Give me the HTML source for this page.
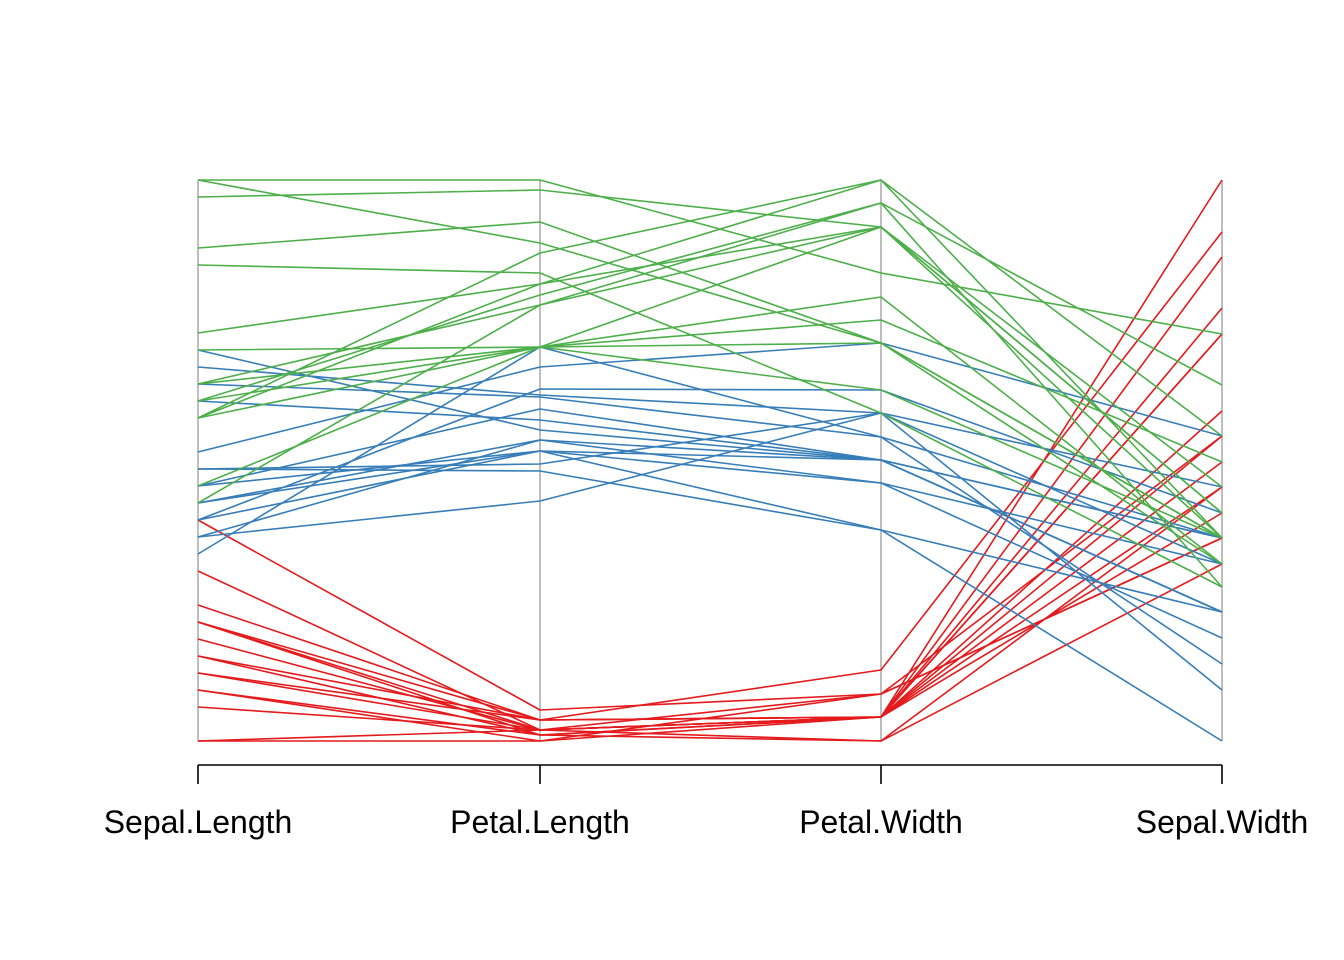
<!DOCTYPE html>
<html><head><meta charset="utf-8"><style>html,body{margin:0;padding:0;background:#fff}svg{display:block}</style></head>
<body>
<svg width="1344" height="960" viewBox="0 0 1344 960" xmlns="http://www.w3.org/2000/svg">
<rect width="1344" height="960" fill="#fff"/>
<g stroke="#BEBEBE" stroke-width="2">
<line x1="198" y1="180" x2="198" y2="741"/><line x1="540" y1="180" x2="540" y2="741"/>
<line x1="881" y1="180" x2="881" y2="741"/><line x1="1222" y1="180" x2="1222" y2="741"/>
</g>
<g fill="none" stroke-width="1.6" stroke-linejoin="round">
<g stroke="#E41A1C">
<polyline points="198,520 540,710 881,694 1222,436"/>
<polyline points="198,571 540,730 881,717 1222,334"/>
<polyline points="198,605 540,720 881,717 1222,180"/>
<polyline points="198,622 540,730 881,717 1222,308"/>
<polyline points="198,622 540,735 881,741 1222,487"/>
<polyline points="198,622 540,720 881,670 1222,232"/>
<polyline points="198,639 540,730 881,717 1222,411"/>
<polyline points="198,656 540,735 881,717 1222,334"/>
<polyline points="198,673 540,720 881,717 1222,462"/>
<polyline points="198,673 540,730 881,694 1222,538"/>
<polyline points="198,690 540,735 881,717 1222,487"/>
<polyline points="198,707 540,730 881,741 1222,564"/>
<polyline points="198,741 540,741 881,717 1222,513"/>
<polyline points="198,741 540,730 881,717 1222,257"/>
<polyline points="198,656 540,720 881,717 1222,436"/>
<polyline points="198,690 540,741 881,694 1222,538"/>
</g>
<g stroke="#377EB8">
<polyline points="198,350 540,430 881,460 1222,538"/>
<polyline points="198,367 540,395 881,413 1222,564"/>
<polyline points="198,384 540,397 881,437 1222,538"/>
<polyline points="198,401 540,420 881,460 1222,612"/>
<polyline points="198,452 540,367 881,343 1222,436"/>
<polyline points="198,469 540,464 881,413 1222,487"/>
<polyline points="198,486 540,409 881,460 1222,538"/>
<polyline points="198,503 540,440 881,483 1222,564"/>
<polyline points="198,503 540,451 881,530 1222,741"/>
<polyline points="198,520 540,389 881,390 1222,513"/>
<polyline points="198,520 540,451 881,460 1222,612"/>
<polyline points="198,537 540,440 881,460 1222,612"/>
<polyline points="198,537 540,501 881,413 1222,690"/>
<polyline points="198,554 540,347 881,437 1222,664"/>
<polyline points="198,486 540,451 881,483 1222,638"/>
<polyline points="198,469 540,471 881,530 1222,612"/>
</g>
<g stroke="#4DAF4A">
<polyline points="198,180 540,180 881,273 1222,334"/>
<polyline points="198,180 540,243 881,343 1222,538"/>
<polyline points="198,197 540,190 881,227 1222,513"/>
<polyline points="198,248 540,222 881,343 1222,564"/>
<polyline points="198,265 540,273 881,413 1222,587"/>
<polyline points="198,333 540,284 881,180 1222,436"/>
<polyline points="198,350 540,347 881,343 1222,538"/>
<polyline points="198,384 540,305 881,227 1222,487"/>
<polyline points="198,384 540,347 881,390 1222,538"/>
<polyline points="198,401 540,295 881,203 1222,385"/>
<polyline points="198,418 540,253 881,180 1222,538"/>
<polyline points="198,418 540,347 881,297 1222,564"/>
<polyline points="198,486 540,347 881,227 1222,538"/>
<polyline points="198,503 540,305 881,203 1222,587"/>
<polyline points="198,401 540,347 881,320 1222,462"/>
<polyline points="198,418 540,284 881,227 1222,513"/>
</g>
</g>
<g stroke="#000" stroke-width="1.6">
<line x1="198" y1="765" x2="1222" y2="765"/>
<line x1="198" y1="765" x2="198" y2="784"/><line x1="540" y1="765" x2="540" y2="784"/>
<line x1="881" y1="765" x2="881" y2="784"/><line x1="1222" y1="765" x2="1222" y2="784"/>
</g>
<g font-family="Liberation Sans, sans-serif" font-size="32" text-anchor="middle" fill="#000">
<text x="198" y="833">Sepal.Length</text>
<text x="540" y="833">Petal.Length</text>
<text x="881" y="833">Petal.Width</text>
<text x="1222" y="833">Sepal.Width</text>
</g>
</svg>
</body></html>
